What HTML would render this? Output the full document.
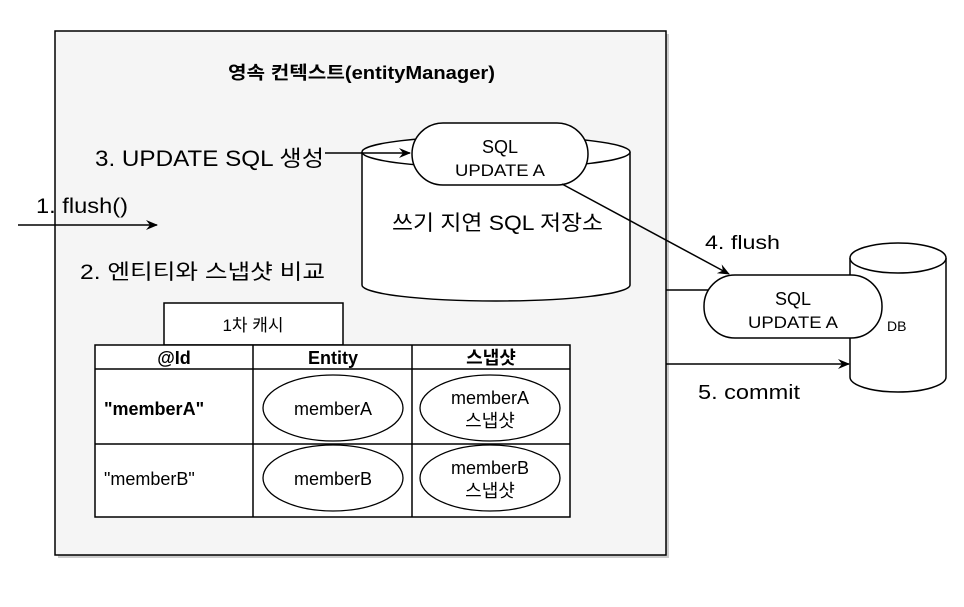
<!DOCTYPE html>
<html><head><meta charset="utf-8"><style>
html,body{margin:0;padding:0;background:#fff;}
svg{display:block;}
text{font-family:"Liberation Sans","Noto Sans CJK KR",sans-serif;fill:#000;}
</style></head><body>
<svg width="964" height="607" viewBox="0 0 964 607" xmlns="http://www.w3.org/2000/svg">
<defs>
<marker id="ah" markerWidth="12" markerHeight="10" refX="11" refY="5" orient="auto" markerUnits="userSpaceOnUse">
<path d="M0,0 L12,5 L0,10 L4,5 Z" fill="#000"/>
</marker>
</defs>
<rect x="58" y="34" width="611" height="524" fill="#999" opacity="0.5"/>
<rect x="55" y="31" width="611" height="524" fill="#f5f5f5" stroke="#000" stroke-width="1.5"/>
<text x="228" y="79" font-size="18" font-weight="bold" textLength="267" lengthAdjust="spacingAndGlyphs">영속 컨텍스트(entityManager)</text>

<path d="M362,152 L362,285 A134,16 0 0 0 630,285 L630,152" fill="#fff" stroke="#000" stroke-width="1.5"/>
<ellipse cx="496" cy="152" rx="134" ry="16" fill="#fff" stroke="#000" stroke-width="1.5"/>
<text x="392" y="230" font-size="21" textLength="211" lengthAdjust="spacingAndGlyphs">쓰기 지연 SQL 저장소</text>
<rect x="412" y="123" width="176" height="62" rx="31" fill="#fff" stroke="#000" stroke-width="1.5"/>
<text x="500" y="153" font-size="18" text-anchor="middle">SQL</text>
<text x="500" y="176" font-size="17" text-anchor="middle" textLength="90" lengthAdjust="spacingAndGlyphs">UPDATE A</text>

<text x="95" y="166" font-size="22" textLength="229" lengthAdjust="spacingAndGlyphs">3. UPDATE SQL 생성</text>
<line x1="325" y1="153" x2="410" y2="153" stroke="#000" stroke-width="1.5" marker-end="url(#ah)"/>
<text x="36" y="213" font-size="21" textLength="92" lengthAdjust="spacingAndGlyphs">1. flush()</text>
<line x1="18" y1="225" x2="157" y2="225" stroke="#000" stroke-width="1.5" marker-end="url(#ah)"/>
<text x="80" y="279" font-size="21" textLength="245" lengthAdjust="spacingAndGlyphs">2. 엔티티와 스냅샷 비교</text>

<line x1="562" y1="184" x2="729" y2="274" stroke="#000" stroke-width="1.5" marker-end="url(#ah)"/>
<text x="705" y="249" font-size="19" textLength="75" lengthAdjust="spacingAndGlyphs">4. flush</text>

<path d="M850,258 L850,377 A48,15 0 0 0 946,377 L946,258" fill="#fff" stroke="#000" stroke-width="1.5"/>
<ellipse cx="898" cy="258" rx="48" ry="15" fill="#fff" stroke="#000" stroke-width="1.5"/>
<text x="887" y="331" font-size="14">DB</text>
<line x1="666" y1="290" x2="708" y2="290" stroke="#000" stroke-width="1.5"/>
<rect x="704" y="275" width="178" height="63" rx="31" fill="#fff" stroke="#000" stroke-width="1.5"/>
<text x="793" y="305" font-size="18" text-anchor="middle">SQL</text>
<text x="793" y="328" font-size="17" text-anchor="middle" textLength="90" lengthAdjust="spacingAndGlyphs">UPDATE A</text>
<line x1="666" y1="364" x2="849" y2="364" stroke="#000" stroke-width="1.5" marker-end="url(#ah)"/>
<text x="698" y="399" font-size="20" textLength="102" lengthAdjust="spacingAndGlyphs">5. commit</text>

<rect x="164" y="303" width="179" height="42" fill="#fff" stroke="#000" stroke-width="1.5"/>
<text x="253" y="331" font-size="17" text-anchor="middle">1차 캐시</text>
<rect x="95" y="345" width="475" height="172" fill="#fff" stroke="#000" stroke-width="1.5"/>
<line x1="95" y1="369" x2="570" y2="369" stroke="#000" stroke-width="1.5"/>
<line x1="95" y1="444" x2="570" y2="444" stroke="#000" stroke-width="1.5"/>
<line x1="253" y1="345" x2="253" y2="517" stroke="#000" stroke-width="1.5"/>
<line x1="412" y1="345" x2="412" y2="517" stroke="#000" stroke-width="1.5"/>
<text x="174" y="364" font-size="18" font-weight="bold" text-anchor="middle">@Id</text>
<text x="333" y="364" font-size="18" font-weight="bold" text-anchor="middle">Entity</text>
<text x="491" y="364" font-size="18" font-weight="bold" text-anchor="middle">스냅샷</text>
<text x="104" y="415" font-size="18" font-weight="bold">"memberA"</text>
<text x="104" y="485" font-size="18">"memberB"</text>
<ellipse cx="333" cy="408" rx="70" ry="33" fill="#fff" stroke="#000" stroke-width="1.3"/>
<text x="333" y="415" font-size="18" text-anchor="middle">memberA</text>
<ellipse cx="490" cy="408" rx="70" ry="33" fill="#fff" stroke="#000" stroke-width="1.3"/>
<text x="490" y="404" font-size="18" text-anchor="middle">memberA</text>
<text x="490" y="427" font-size="18" text-anchor="middle">스냅샷</text>
<ellipse cx="333" cy="478" rx="70" ry="33" fill="#fff" stroke="#000" stroke-width="1.3"/>
<text x="333" y="485" font-size="18" text-anchor="middle">memberB</text>
<ellipse cx="490" cy="478" rx="70" ry="33" fill="#fff" stroke="#000" stroke-width="1.3"/>
<text x="490" y="474" font-size="18" text-anchor="middle">memberB</text>
<text x="490" y="497" font-size="18" text-anchor="middle">스냅샷</text>
</svg>
</body></html>
